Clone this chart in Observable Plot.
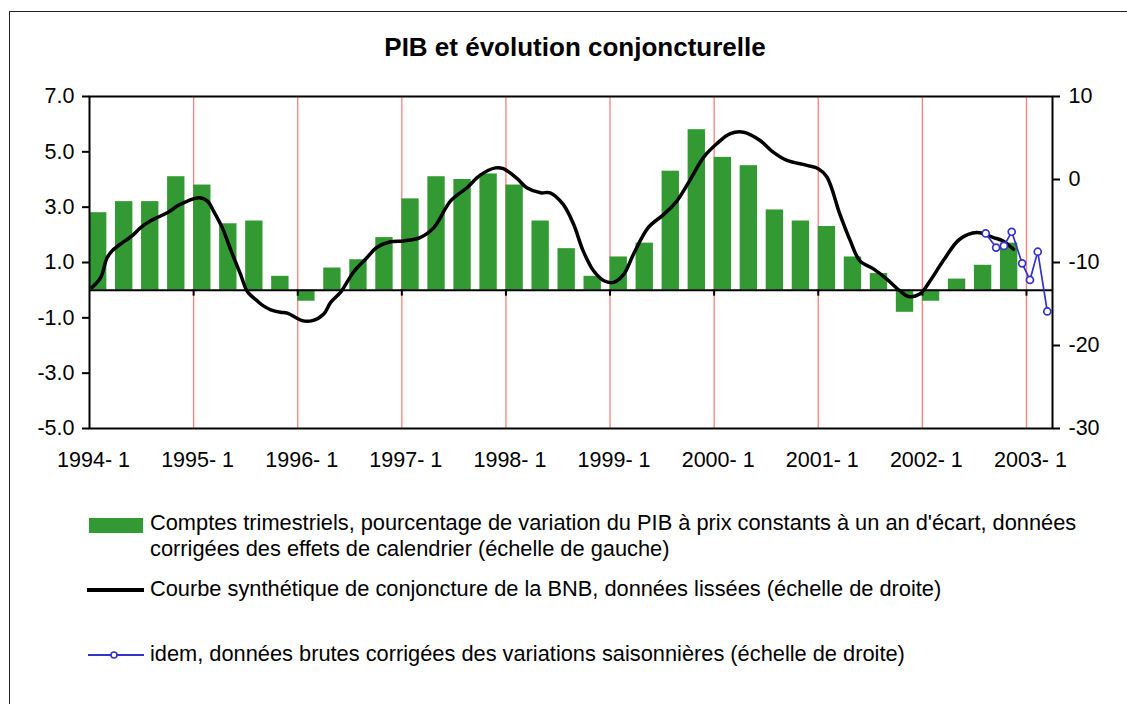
<!DOCTYPE html>
<html>
<head>
<meta charset="utf-8">
<script src="https://cdn.jsdelivr.net/npm/d3@7"></script>
<script src="https://cdn.jsdelivr.net/npm/@observablehq/plot@0.6"></script>
<style>
html,body{margin:0;padding:0;background:#fff;overflow:hidden;}
#wrap{position:relative;width:1127px;height:704px;font-family:"Liberation Sans",Arial,sans-serif;color:#000;overflow:hidden;}
#border{position:absolute;left:9px;top:11px;width:1300px;height:900px;border:1px solid #222;}
#title{position:absolute;left:0;top:32px;width:1150px;text-align:center;font-weight:bold;font-size:26px;line-height:30px;}
#chart{position:absolute;left:0;top:70px;}
.legtext{position:absolute;left:150px;font-size:21.8px;line-height:26px;white-space:nowrap;}
.sw{position:absolute;}
</style>
</head>
<body>
<div id="wrap">
  <div id="border"></div>
  <div id="title">PIB et évolution conjoncturelle</div>
  <div id="chart"></div>
  <div class="sw" style="left:89px;top:518px;width:54px;height:15px;background:#339933;"></div>
  <div class="legtext" style="top:510px;">Comptes trimestriels, pourcentage de variation du PIB à prix constants à un an d'écart, données<br>corrigées des effets de calendrier (échelle de gauche)</div>
  <div class="sw" style="left:87px;top:588px;width:57px;height:4px;background:#000;"></div>
  <div class="legtext" style="top:576px;">Courbe synthétique de conjoncture de la BNB, données lissées (échelle de droite)</div>
  <svg class="sw" style="left:86px;top:649px;" width="60" height="12">
    <line x1="2" y1="6" x2="58" y2="6" stroke="#3333cc" stroke-width="1.8"/>
    <circle cx="28" cy="6" r="3" fill="#fff" stroke="#3333cc" stroke-width="1.6"/>
  </svg>
  <div class="legtext" style="top:641px;">idem, données brutes corrigées des variations saisonnières (échelle de droite)</div>
</div>
<script>
// ---- Data ----
const quarters = ["1994-1","1994-2","1994-3","1994-4","1995-1","1995-2","1995-3","1995-4",
  "1996-1","1996-2","1996-3","1996-4","1997-1","1997-2","1997-3","1997-4",
  "1998-1","1998-2","1998-3","1998-4","1999-1","1999-2","1999-3","1999-4",
  "2000-1","2000-2","2000-3","2000-4","2001-1","2001-2","2001-3","2001-4",
  "2002-1","2002-2","2002-3","2002-4"];
const gdpGrowth = [2.8,3.2,3.2,4.1,3.8,2.4,2.5,0.5,-0.4,0.8,1.1,1.9,3.3,4.1,4.0,4.2,
  3.8,2.5,1.5,0.5,1.2,1.7,4.3,5.8,4.8,4.5,2.9,2.5,2.3,1.2,0.6,-0.8,-0.4,0.4,0.9,1.7];

// smoothed BNB business-cycle curve: position in months since Jan 1994, value (right scale)
const smoothMonth = [0.3,1.3,2.0,2.6,3.8,4.9,5.9,7.0,8.2,9.3,10.1,11.3,12.6,13.6,14.3,15.3,16.4,17.4,18.2,19.3,
  20.0,20.9,22.0,22.8,24.5,25.7,27.0,27.8,29.0,30.4,32.0,33.1,34.7,36.2,38.1,39.7,41.6,43.5,45.0,46.8,
  47.7,49.3,50.4,52.0,53.1,54.6,55.8,56.9,58.1,59.3,60.4,61.6,62.7,64.4,66.2,67.7,69.2,70.8,72.3,73.8,
  75.4,77.3,78.8,80.4,82.7,84.0,85.0,86.5,87.7,88.8,90.4,91.9,93.4,94.4,95.7,96.9,98.4,100.3,102.3,104.2,
  105.3,106.5];
const smoothValue = [-13.0,-11.8,-9.5,-8.6,-7.6,-6.8,-5.8,-5.0,-4.4,-3.8,-3.2,-2.6,-2.2,-2.6,-3.8,-5.8,-8.8,-11.4,-13.5,-14.6,
  -15.2,-15.7,-16.0,-16.1,-17.0,-17.0,-16.2,-14.8,-13.5,-11.2,-9.4,-8.2,-7.5,-7.4,-7.0,-5.8,-2.6,-1.0,0.5,1.4,
  1.3,0.1,-1.0,-1.6,-1.6,-3.0,-5.4,-8.6,-11.0,-12.2,-12.4,-11.4,-9.0,-5.8,-4.2,-2.6,-0.1,2.7,4.3,5.5,
  5.7,4.7,3.3,2.3,1.7,1.3,0.3,-4.2,-7.4,-9.8,-10.8,-12.0,-13.4,-14.1,-13.8,-12.2,-9.8,-7.2,-6.4,-7.0,
  -7.4,-8.4];

// raw seasonally adjusted data (right scale)
const rawMonth = [103.3,104.5,105.4,106.3,107.5,108.4,109.3,110.4];
const rawValue = [-6.5,-8.2,-8.0,-6.3,-10.1,-12.1,-8.7,-15.9];

const leftDomain = [-5, 7];
const rightDomain = [-30, 10];
const leftTicks = [-5,-3,-1,1,3,5,7];
const rightTicks = [-30,-20,-10,0,10];
const yearStarts = [0,12,24,36,48,60,72,84,96,108];
const yearLabels = ["1994- 1","1995- 1","1996- 1","1997- 1","1998- 1","1999- 1","2000- 1","2001- 1","2002- 1","2003- 1"];

// ---- Build ----
const k = (leftDomain[1]-leftDomain[0])/(rightDomain[1]-rightDomain[0]);
const toLeft = v => leftDomain[0] + (v - rightDomain[0]) * k;
const toRight = v => rightDomain[0] + (v - leftDomain[0]) / k;

const bars = quarters.map((q,i) => {
  const [yr, qq] = q.split("-").map(Number);
  const m = (yr-1994)*12 + (qq-1)*3;
  return {m1: m, m2: m + 2, v: gdpGrowth[i]};
});
const smooth = smoothMonth.map((m,i) => ({m, v: smoothValue[i]}));
const raw = rawMonth.map((m,i) => ({m, v: rawValue[i]}));

const chart = Plot.plot({
  width: 1127, height: 420,
  marginTop: 26, marginBottom: 62, marginLeft: 89, marginRight: 75,
  style: {fontFamily: '"Liberation Sans", Arial, sans-serif', fontSize: "21.5px", color: "#000", background: "transparent", overflow: "visible"},
  x: {domain: [0, 111], axis: null},
  y: {domain: leftDomain, axis: null},
  marks: [
    Plot.ruleX(yearStarts.slice(1), {stroke: "#ff7f7f", strokeWidth: 1.3}),
    Plot.rectY(bars, {x1: "m1", x2: "m2", y1: 0, y2: "v", fill: "#339933"}),
    Plot.ruleY([0], {stroke: "#000", strokeWidth: 2}),
    Plot.ruleX(yearStarts.slice(1), {x: d => d, y1: 0, y2: 0, insetBottom: -6, stroke: "#000", strokeWidth: 2}),
    Plot.line(smooth, {x: "m", y: d => toLeft(d.v), stroke: "#000", strokeWidth: 3.5, curve: "catmull-rom", strokeLinejoin: "round"}),
    Plot.line(raw, {x: "m", y: d => toLeft(d.v), stroke: "#3333cc", strokeWidth: 1.7}),
    Plot.dot(raw, {x: "m", y: d => toLeft(d.v), r: 3.5, stroke: "#3333cc", fill: "#fff", strokeWidth: 1.7}),
    Plot.frame({stroke: "#000", strokeWidth: 2}),
    Plot.axisY({anchor: "left", label: null, ticks: leftTicks, tickFormat: d => d.toFixed(1), tickSize: 7, tickPadding: 8, strokeWidth: 2}),
    Plot.axisY({anchor: "right", label: null, ticks: rightTicks.map(toLeft), tickFormat: d => String(Math.round(toRight(d))), tickSize: 7, tickPadding: 9, strokeWidth: 2}),
    Plot.axisX({anchor: "bottom", label: null, ticks: yearStarts, tickFormat: d => yearLabels[yearStarts.indexOf(d)], tickSize: 0, tickPadding: 23, dx: 4})
  ]
});
document.getElementById("chart").appendChild(chart);
</script>
</body>
</html>
